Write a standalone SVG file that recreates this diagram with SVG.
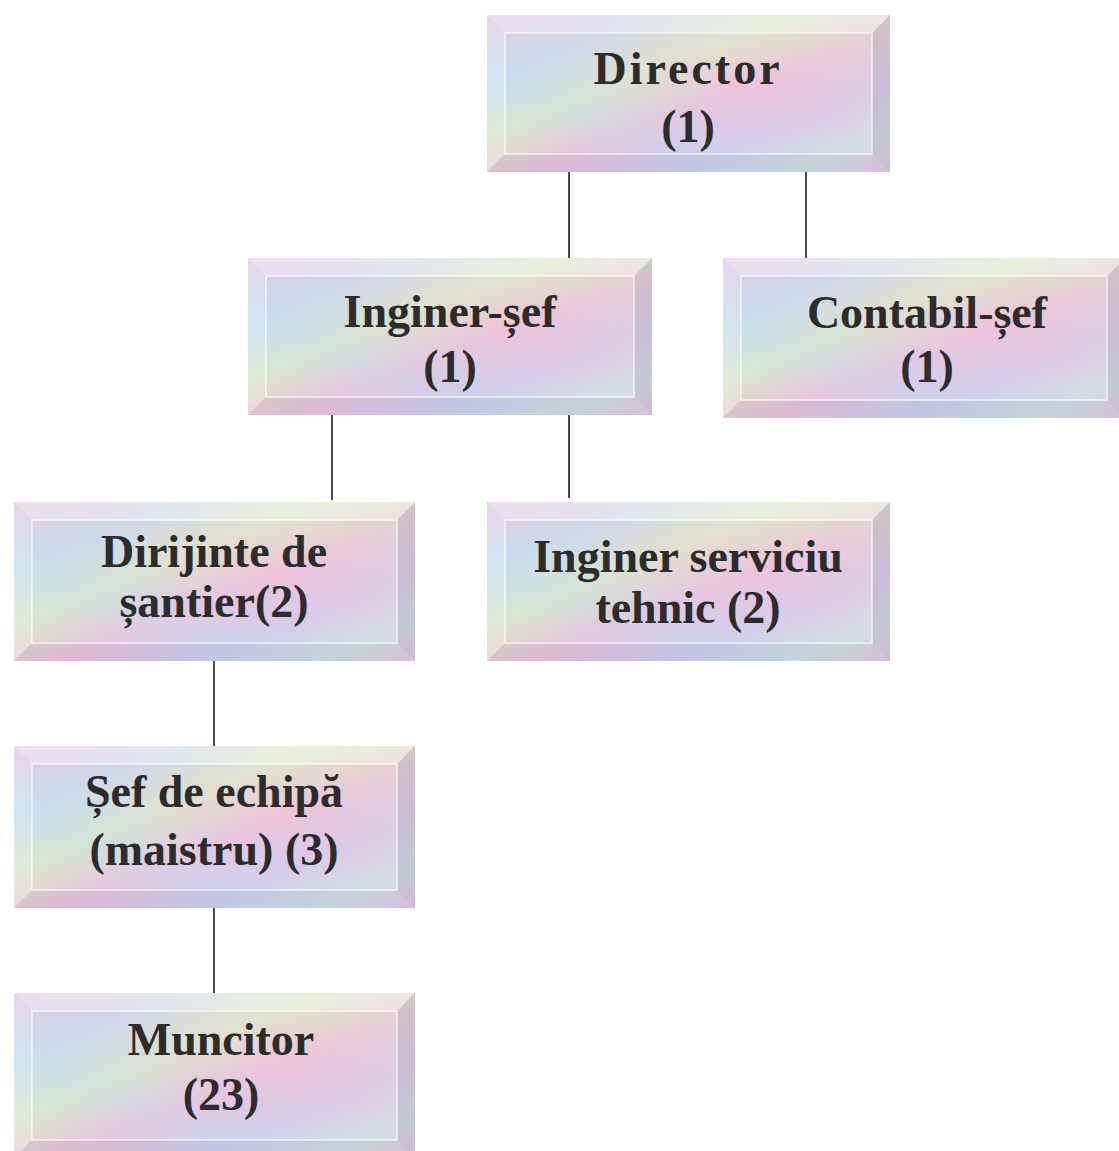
<svg xmlns="http://www.w3.org/2000/svg" width="1119" height="1151" viewBox="0 0 1119 1151">
<defs>
<linearGradient id="pastel" x1="0" y1="0" x2="1" y2="1">
<stop offset="0" stop-color="#e6c6e6"/>
<stop offset="0.2" stop-color="#c4def0"/>
<stop offset="0.38" stop-color="#dcecc6"/>
<stop offset="0.55" stop-color="#eec0da"/>
<stop offset="0.72" stop-color="#d4c8ee"/>
<stop offset="0.88" stop-color="#c8e8e0"/>
<stop offset="1" stop-color="#e8c4e4"/>
</linearGradient>
<linearGradient id="pastel2" x1="0" y1="1" x2="1" y2="0">
<stop offset="0" stop-color="#e2cde6" stop-opacity="0.0"/>
<stop offset="0.3" stop-color="#c2dcf0" stop-opacity="0.45"/>
<stop offset="0.6" stop-color="#f0c8dc" stop-opacity="0.35"/>
<stop offset="1" stop-color="#d4eecc" stop-opacity="0.4"/>
</linearGradient>
</defs>
<style>
.bg{fill:url(#pastel)}
.ov{fill:url(#pastel2)}
.bt{fill:#ffffff;fill-opacity:0.35}
.bl{fill:#ffffff;fill-opacity:0.2}
.bb{fill:#6a6a8a;fill-opacity:0.1}
.br{fill:#6a6a8a;fill-opacity:0.16}
.in{fill:none;stroke:#ffffff;stroke-opacity:0.7;stroke-width:1.5}
.t{font-family:"Liberation Serif","Times New Roman",serif;font-weight:bold;font-size:46px;fill:#2c2c2c;text-anchor:middle}
.c{stroke:#4a4a4a;stroke-width:2;fill:none}
</style>
<rect width="1119" height="1151" fill="#ffffff"/>
<g id="connectors">
<line class="c" x1="569" y1="172" x2="569" y2="258"/>
<line class="c" x1="806" y1="172" x2="806" y2="258"/>
<line class="c" x1="332" y1="415" x2="332" y2="500"/>
<line class="c" x1="569" y1="415" x2="569" y2="498"/>
<line class="c" x1="214" y1="661" x2="214" y2="746"/>
<line class="c" x1="214" y1="908" x2="214" y2="993"/>
</g>
<g id="director">
<rect class="bg" x="487" y="15" width="403" height="157"/>
<rect class="ov" x="487" y="15" width="403" height="157"/>
<polygon class="bt" points="487,15 890,15 872,33 505,33"/>
<polygon class="bl" points="487,15 505,33 505,154 487,172"/>
<polygon class="bb" points="487,172 505,154 872,154 890,172"/>
<polygon class="br" points="890,15 890,172 872,154 872,33"/>
<rect class="in" x="505" y="33" width="367" height="121"/>
<text class="t" x="688" y="84" letter-spacing="3">Director</text>
<text class="t" x="688" y="142">(1)</text>
</g>
<g id="inginer-sef">
<rect class="bg" x="248" y="258" width="404" height="157"/>
<rect class="ov" x="248" y="258" width="404" height="157"/>
<polygon class="bt" points="248,258 652,258 634,276 266,276"/>
<polygon class="bl" points="248,258 266,276 266,397 248,415"/>
<polygon class="bb" points="248,415 266,397 634,397 652,415"/>
<polygon class="br" points="652,258 652,415 634,397 634,276"/>
<rect class="in" x="266" y="276" width="368" height="121"/>
<text class="t" x="450" y="327">Inginer-șef</text>
<text class="t" x="450" y="382">(1)</text>
</g>
<g id="contabil-sef">
<rect class="bg" x="723" y="258" width="402" height="160"/>
<rect class="ov" x="723" y="258" width="402" height="160"/>
<polygon class="bt" points="723,258 1125,258 1107,276 741,276"/>
<polygon class="bl" points="723,258 741,276 741,400 723,418"/>
<polygon class="bb" points="723,418 741,400 1107,400 1125,418"/>
<polygon class="br" points="1125,258 1125,418 1107,400 1107,276"/>
<rect class="in" x="741" y="276" width="366" height="124"/>
<text class="t" x="927" y="328">Contabil-șef</text>
<text class="t" x="927" y="382">(1)</text>
</g>
<g id="dirijinte">
<rect class="bg" x="14" y="502" width="401" height="159"/>
<rect class="ov" x="14" y="502" width="401" height="159"/>
<polygon class="bt" points="14,502 415,502 397,520 32,520"/>
<polygon class="bl" points="14,502 32,520 32,643 14,661"/>
<polygon class="bb" points="14,661 32,643 397,643 415,661"/>
<polygon class="br" points="415,502 415,661 397,643 397,520"/>
<rect class="in" x="32" y="520" width="365" height="123"/>
<text class="t" x="214" y="567">Dirijinte de</text>
<text class="t" x="214" y="617">șantier(2)</text>
</g>
<g id="inginer-serviciu">
<rect class="bg" x="487" y="502" width="403" height="159"/>
<rect class="ov" x="487" y="502" width="403" height="159"/>
<polygon class="bt" points="487,502 890,502 872,520 505,520"/>
<polygon class="bl" points="487,502 505,520 505,643 487,661"/>
<polygon class="bb" points="487,661 505,643 872,643 890,661"/>
<polygon class="br" points="890,502 890,661 872,643 872,520"/>
<rect class="in" x="505" y="520" width="367" height="123"/>
<text class="t" x="688" y="572">Inginer serviciu</text>
<text class="t" x="688" y="623">tehnic (2)</text>
</g>
<g id="sef-echipa">
<rect class="bg" x="14" y="746" width="401" height="162"/>
<rect class="ov" x="14" y="746" width="401" height="162"/>
<polygon class="bt" points="14,746 415,746 397,764 32,764"/>
<polygon class="bl" points="14,746 32,764 32,890 14,908"/>
<polygon class="bb" points="14,908 32,890 397,890 415,908"/>
<polygon class="br" points="415,746 415,908 397,890 397,764"/>
<rect class="in" x="32" y="764" width="365" height="126"/>
<text class="t" x="214" y="807">Șef de echipă</text>
<text class="t" x="214" y="865">(maistru) (3)</text>
</g>
<g id="muncitor">
<rect class="bg" x="14" y="993" width="401" height="165"/>
<rect class="ov" x="14" y="993" width="401" height="165"/>
<polygon class="bt" points="14,993 415,993 397,1011 32,1011"/>
<polygon class="bl" points="14,993 32,1011 32,1140 14,1158"/>
<polygon class="bb" points="14,1158 32,1140 397,1140 415,1158"/>
<polygon class="br" points="415,993 415,1158 397,1140 397,1011"/>
<rect class="in" x="32" y="1011" width="365" height="129"/>
<text class="t" x="221" y="1055">Muncitor</text>
<text class="t" x="221" y="1110">(23)</text>
</g>
</svg>
